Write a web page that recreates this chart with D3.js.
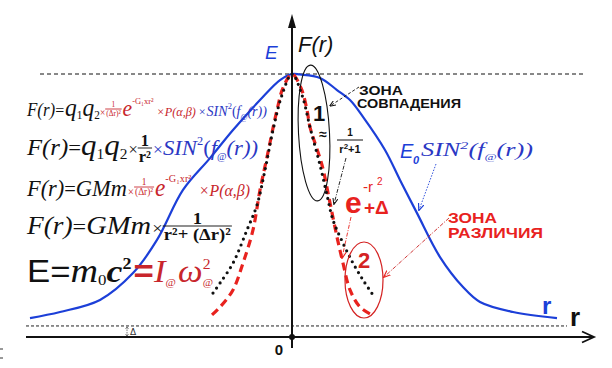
<!DOCTYPE html>
<html><head><meta charset="utf-8">
<script src="https://cdn.jsdelivr.net/npm/d3@7"></script>
<style>html,body{margin:0;padding:0;background:#fff;} svg{display:block;}</style>
</head><body><svg id="c" width="612" height="368"></svg>
<script>
// ---- data (r in axis units, F normalised so the peak = 1) ----
const blueR = [-5.24,-4.64,-3.84,-3.18,-2.70,-2.18,-1.64,-1.18,-0.64,-0.24,0,0.16,0.56,0.90,1.16,1.42,1.86,2.16,2.50,2.96,3.42,3.76,4.42,5.30];
const blueF = [0.072,0.095,0.141,0.243,0.369,0.559,0.680,0.787,0.901,0.977,1,0.998,0.985,0.939,0.901,0.837,0.711,0.597,0.471,0.304,0.190,0.133,0.095,0.072];
const redR  = [-1.60,-1.44,-1.18,-0.98,-0.78,-0.64,-0.50,-0.30,-0.18,0,0.18,0.30,0.36,0.60,0.76,0.90,1.02,1.16,1.36,1.60];
const redF  = [0.084,0.114,0.179,0.281,0.407,0.559,0.684,0.863,0.947,1,0.947,0.863,0.798,0.654,0.510,0.380,0.281,0.179,0.114,0.084];
const blackR = [-1.58,-1.44,-1.18,-0.90,-0.70,-0.54,-0.38,-0.20,0,0.20,0.36,0.56,0.70,0.82,1.02,1.22,1.42,1.62];
const blackF = [0.167,0.205,0.281,0.407,0.502,0.635,0.787,0.920,1,0.920,0.798,0.654,0.540,0.445,0.357,0.281,0.217,0.160];
const delta = 0.042;           // level of the lower dashed line
const xDomain = [-5.32, 6.06];
const yDomain = [0, 1];
const originLabel = "0";

const svg = d3.select("#c");
const x = d3.scaleLinear().domain(xDomain).range([26, 595]);
const y = d3.scaleLinear().domain(yDomain).range([337, 74]);

const BLUE = "#1c3fd8", RED = "#e8221e", FRED = "#c8262c", FBLUE = "#2b37c4", K = "#111";
const SANS = "'Liberation Sans', Arial, sans-serif";
const SERIF = "'Liberation Serif', 'Times New Roman', serif";

// markers
const defs = svg.append("defs");
function marker(id, col, size){
  defs.append("marker").attr("id", id).attr("viewBox","0 0 10 10").attr("refX",9).attr("refY",5)
    .attr("markerWidth", size).attr("markerHeight", size).attr("orient","auto")
    .append("path").attr("d","M0,1 L10,5 L0,9").attr("fill","none").attr("stroke",col).attr("stroke-width",1.6);
}
marker("mk", K, 7); marker("mr", RED, 8); marker("mb", BLUE, 8);

// ---- reference lines ----
svg.append("line").attr("x1", 40).attr("x2", 585).attr("y1", y(1)).attr("y2", y(1))
  .attr("stroke", K).attr("stroke-width", 1).attr("stroke-dasharray", "4 3");
svg.append("line").attr("x1", x(xDomain[0])).attr("x2", 567).attr("y1", y(delta)).attr("y2", y(delta))
  .attr("stroke", "#222").attr("stroke-width", 1).attr("stroke-dasharray", "3 2");

// axes
svg.append("line").attr("x1", x(xDomain[0])).attr("x2", 594).attr("y1", y(0)).attr("y2", y(0))
  .attr("stroke", K).attr("stroke-width", 2);
svg.append("path").attr("d", `M582,331.5 L594,${y(0)} L582,342.5`).attr("fill","none").attr("stroke",K).attr("stroke-width",1.8);
svg.append("line").attr("x1", x(0)).attr("x2", x(0)).attr("y1", 348).attr("y2", 24)
  .attr("stroke", K).attr("stroke-width", 2);
svg.append("path").attr("d", `M${x(0)-4},28 L${x(0)},14 L${x(0)+4},28 Z`).attr("fill", K);
svg.append("circle").attr("cx", x(0)).attr("cy", y(0)).attr("r", 3).attr("fill", K);
svg.append("text").attr("x", x(0)-13).attr("y", 355).attr("text-anchor","middle")
  .style("font", `bold 15px ${SANS}`).attr("fill", K).text(originLabel);
// small marks on left edge
svg.append("line").attr("x1",0).attr("x2",3).attr("y1",349).attr("y2",349).attr("stroke","#333");
svg.append("line").attr("x1",0).attr("x2",3).attr("y1",358).attr("y2",358).attr("stroke","#333");

// delta marker
svg.append("line").attr("x1",127).attr("x2",127).attr("y1",y(delta)+1).attr("y2",y(0)-1)
  .attr("stroke","#555").attr("stroke-width",0.8).attr("stroke-dasharray","1.5 1");
svg.append("path").attr("d","M125.5,329 L127,327 L128.5,329 M125.5,334 L127,336 L128.5,334").attr("fill","none").attr("stroke","#555").attr("stroke-width",0.7);
svg.append("text").attr("x",130).attr("y",335).style("font","9px 'DejaVu Sans', sans-serif").attr("fill","#333").text("Δ");

// ---- curves ----
const line = d3.line().x(d => x(d[0])).y(d => y(d[1])).curve(d3.curveCatmullRom.alpha(0.5));
svg.append("path").attr("d", line(d3.zip(blueR, blueF))).attr("fill","none").attr("stroke", BLUE).attr("stroke-width", 2.2);
svg.append("path").attr("d", line(d3.zip(redR, redF))).attr("fill","none").attr("stroke", RED).attr("stroke-width", 3.2)
  .attr("stroke-dasharray","8 5");
svg.append("path").attr("d", line(d3.zip(blackR, blackF))).attr("fill","none").attr("stroke", K).attr("stroke-width", 3.2)
  .attr("stroke-linecap","round").attr("stroke-dasharray","0 6.2");

// ---- annotations ----
function txt(xp, yp, s, font, col, anchor, len){
  const t = svg.append("text").attr("x", xp).attr("y", yp).attr("text-anchor", anchor||"start")
    .style("font", font).attr("fill", col).text(s);
  if (len) t.attr("textLength", len).attr("lengthAdjust", "spacingAndGlyphs");
  return t;
}
txt(265, 59, "E", `italic 19px ${SANS}`, BLUE);
txt(298, 52, "F(r)", `italic 22px ${SANS}`, K);

// ellipse 1
svg.append("ellipse").attr("cx", 314).attr("cy", 133).attr("rx", 15.5).attr("ry", 68)
  .attr("transform","rotate(-3 314 133)").attr("fill","none").attr("stroke", K).attr("stroke-width", 1.1);
txt(319, 121, "1", `bold 22px ${SANS}`, K, "middle");
txt(323, 139, "≈", `bold 14px ${SANS}`, K, "middle");
// fraction 1/(r^2+1)
txt(350, 136, "1", `bold 10px ${SANS}`, K, "middle");
svg.append("line").attr("x1",337).attr("x2",363).attr("y1",140).attr("y2",140).attr("stroke",K).attr("stroke-width",1);
const fr = svg.append("text").attr("x",350).attr("y",153).attr("text-anchor","middle").style("font",`bold 11px ${SANS}`).attr("fill",K);
fr.append("tspan").text("r");
fr.append("tspan").attr("dy",-4).style("font-size","8px").text("2");
fr.append("tspan").attr("dy",4).text("+1");
svg.append("path").attr("d","M346,158 L334,204").attr("fill","none").attr("stroke",K).attr("stroke-width",0.9)
  .attr("stroke-dasharray","4 1.5 1 1.5").attr("marker-end","url(#mk)");

txt(359, 95, "ЗОНА", `bold 13px ${SANS}`, K, "start", 44);
txt(357, 108, "СОВПАДЕНИЯ", `bold 13px ${SANS}`, K, "start", 104);
svg.append("path").attr("d","M359,87 L330,106").attr("fill","none").attr("stroke",K).attr("stroke-width",0.9)
  .attr("stroke-dasharray","3 2").attr("marker-end","url(#mk)");

// e^{-r^2}+Δ
txt(345, 213, "e", `bold 30px ${SANS}`, RED);
txt(363, 192, "-r", `15px ${SANS}`, RED);
txt(377, 185, "2", `10px ${SANS}`, RED);
txt(364, 214, "+Δ", `bold 19px ${SANS}`, RED);
svg.append("path").attr("d","M351,217 L342,258").attr("fill","none").attr("stroke",RED).attr("stroke-width",0.9)
  .attr("stroke-dasharray","4 1.5 1 1.5").attr("marker-end","url(#mr)");

// ellipse 2
svg.append("ellipse").attr("cx", 364).attr("cy", 280).attr("rx", 19).attr("ry", 38)
  .attr("fill","none").attr("stroke", "#d42222").attr("stroke-width", 1.2);
txt(364, 268, "2", `bold 22px ${SANS}`, "#d42222", "middle");

txt(448, 223, "ЗОНА", `bold 15px ${SANS}`, RED, "start", 49);
txt(448, 238, "РАЗЛИЧИЯ", `bold 15px ${SANS}`, RED, "start", 95);
svg.append("path").attr("d","M449,218 L384,277").attr("fill","none").attr("stroke","#c82020").attr("stroke-width",0.9)
  .attr("stroke-dasharray","4 1.5 1 1.5").attr("marker-end","url(#mr)");

// E0 SIN^2(f(r))
txt(400, 158, "E", `italic 20px ${SANS}`, BLUE);
txt(413, 164, "0", `bold italic 11px ${SANS}`, BLUE);
const es = svg.append("text").attr("x", 421).attr("y", 156).style("font", `italic 18px ${SERIF}`).attr("fill", FBLUE)
  .attr("textLength", 112).attr("lengthAdjust", "spacingAndGlyphs");
es.append("tspan").text("SIN");
es.append("tspan").attr("dy",-7).style("font-size","11px").text("2");
es.append("tspan").attr("dy",7).text("(f");
es.append("tspan").attr("dy",4).style("font-size","9px").text("@");
es.append("tspan").attr("dy",-4).text("(r))");
svg.append("path").attr("d","M436,164 L419,210").attr("fill","none").attr("stroke",BLUE).attr("stroke-width",0.9)
  .attr("stroke-dasharray","1.5 1.5").attr("marker-end","url(#mb)");

txt(542, 314, "r", `bold 24px ${SANS}`, BLUE);
txt(570, 326, "r", `bold 26px ${SANS}`, K);

// ---- formulas ----
function flow(x0, y0, xEnd, segs){
  const g = svg.append("g");
  let xx = x0;
  segs.forEach(s => {
    const col = s.c || K;
    const font = `${s.it ? "italic " : ""}${s.b ? "bold " : ""}${s.fs}px ${s.fam || SERIF}`;
    if (s.frac){
      const bar = y0 + (s.bar || -5);
      const n = g.append("text").attr("y", bar - 1.5).attr("text-anchor","middle").style("font", font).attr("fill", col).text(s.frac[0]);
      const d = g.append("text").attr("y", bar + s.fs*0.85).attr("text-anchor","middle").style("font", font).attr("fill", col).text(s.frac[1]);
      const w = Math.max(n.node().getComputedTextLength(), d.node().getComputedTextLength()) + 2;
      n.attr("x", xx + w/2); d.attr("x", xx + w/2);
      g.append("line").attr("x1", xx).attr("x2", xx + w).attr("y1", bar).attr("y2", bar).attr("stroke", col).attr("stroke-width", s.lw || 0.9);
      xx += w + (s.gap || 1);
    } else {
      const t = g.append("text").attr("x", xx).attr("y", y0 + (s.dy || 0)).style("font", font).attr("fill", col).text(s.t);
      xx += t.node().getComputedTextLength() + (s.gap || 0);
    }
  });
  const k = (xEnd - x0) / (xx - x0);
  g.attr("transform", `translate(${x0},0) scale(${k},1) translate(${-x0},0)`);
}
flow(27, 116, 267, [
  {t:"F(r)", fs:18, it:1}, {t:"=", fs:17, gap:1},
  {t:"q", fs:25, it:1}, {t:"1", fs:12, dy:3}, {t:"q", fs:25, it:1}, {t:"2", fs:12, dy:3},
  {t:"×", fs:10, c:FRED}, {frac:["1","(Δr)²"], fs:8, c:FRED, bar:-7},
  {t:"e", fs:23, it:1, c:FRED}, {t:"-G₁xr²", fs:9, c:FRED, dy:-12, gap:3},
  {t:"×P(α,β)", fs:13, it:1, c:FRED, gap:3},
  {t:"×", fs:13, c:FBLUE, gap:1}, {t:"SIN", fs:15, it:1, c:FBLUE}, {t:"2", fs:9, c:FBLUE, dy:-7},
  {t:"(", fs:15, c:FBLUE}, {t:"f", fs:15, it:1, c:FBLUE}, {t:"@", fs:8, c:FBLUE, dy:4}, {t:"(r))", fs:15, it:1, c:FBLUE}
]);
flow(27, 155, 258, [
  {t:"F(r)", fs:24, it:1}, {t:" = ", fs:22},
  {t:"q", fs:30, it:1}, {t:"1", fs:15, dy:4}, {t:"q", fs:30, it:1}, {t:"2", fs:15, dy:4, gap:1},
  {t:"×", fs:16}, {frac:["1","r²"], fs:16, b:1, bar:-7},
  {t:"×", fs:17, c:FBLUE}, {t:"SIN", fs:22, it:1, c:FBLUE}, {t:"2", fs:12, c:FBLUE, dy:-10},
  {t:"(", fs:22, c:FBLUE}, {t:"f", fs:22, it:1, c:FBLUE}, {t:"@", fs:10, c:FBLUE, dy:5}, {t:"(r))", fs:22, it:1, c:FBLUE}
]);
flow(27, 196, 250, [
  {t:"F(r)", fs:24, it:1}, {t:" = ", fs:22},
  {t:"GMm", fs:24, it:1, gap:1}, {t:"×", fs:12, c:FRED}, {frac:["1","(Δr)²"], fs:10, c:FRED, bar:-9},
  {t:"e", fs:25, it:1, c:FRED}, {t:"-G₁xr²", fs:11, c:FRED, dy:-14, gap:8},
  {t:"×P(α,β)", fs:17, it:1, c:FRED}
]);
flow(27, 234, 233, [
  {t:"F(r)", fs:25, it:1}, {t:" = ", fs:22},
  {t:"GMm", fs:26, it:1, gap:1}, {t:"×", fs:17},
  {frac:["1","r²+ (Δr)²"], fs:17, b:1, bar:-8}
]);
flow(27, 282, 213, [
  {t:"E=", fs:31, fam:SANS}, {t:"m", fs:34, it:1}, {t:"0", fs:15, dy:3},
  {t:"c", fs:32, it:1, b:1}, {t:"2", fs:16, b:1, dy:-13, gap:2},
  {t:"=", fs:31, b:1, c:FRED, fam:SANS}, {t:"I", fs:31, it:1, c:FRED}, {t:"@", fs:10, c:FRED, dy:4, gap:2},
  {t:"ω", fs:31, it:1, c:FRED}, {t:"2", fs:14, c:FRED, dy:-13, gap:-7}, {t:"@", fs:10, c:FRED, dy:4}
]);
</script>
</body></html>
